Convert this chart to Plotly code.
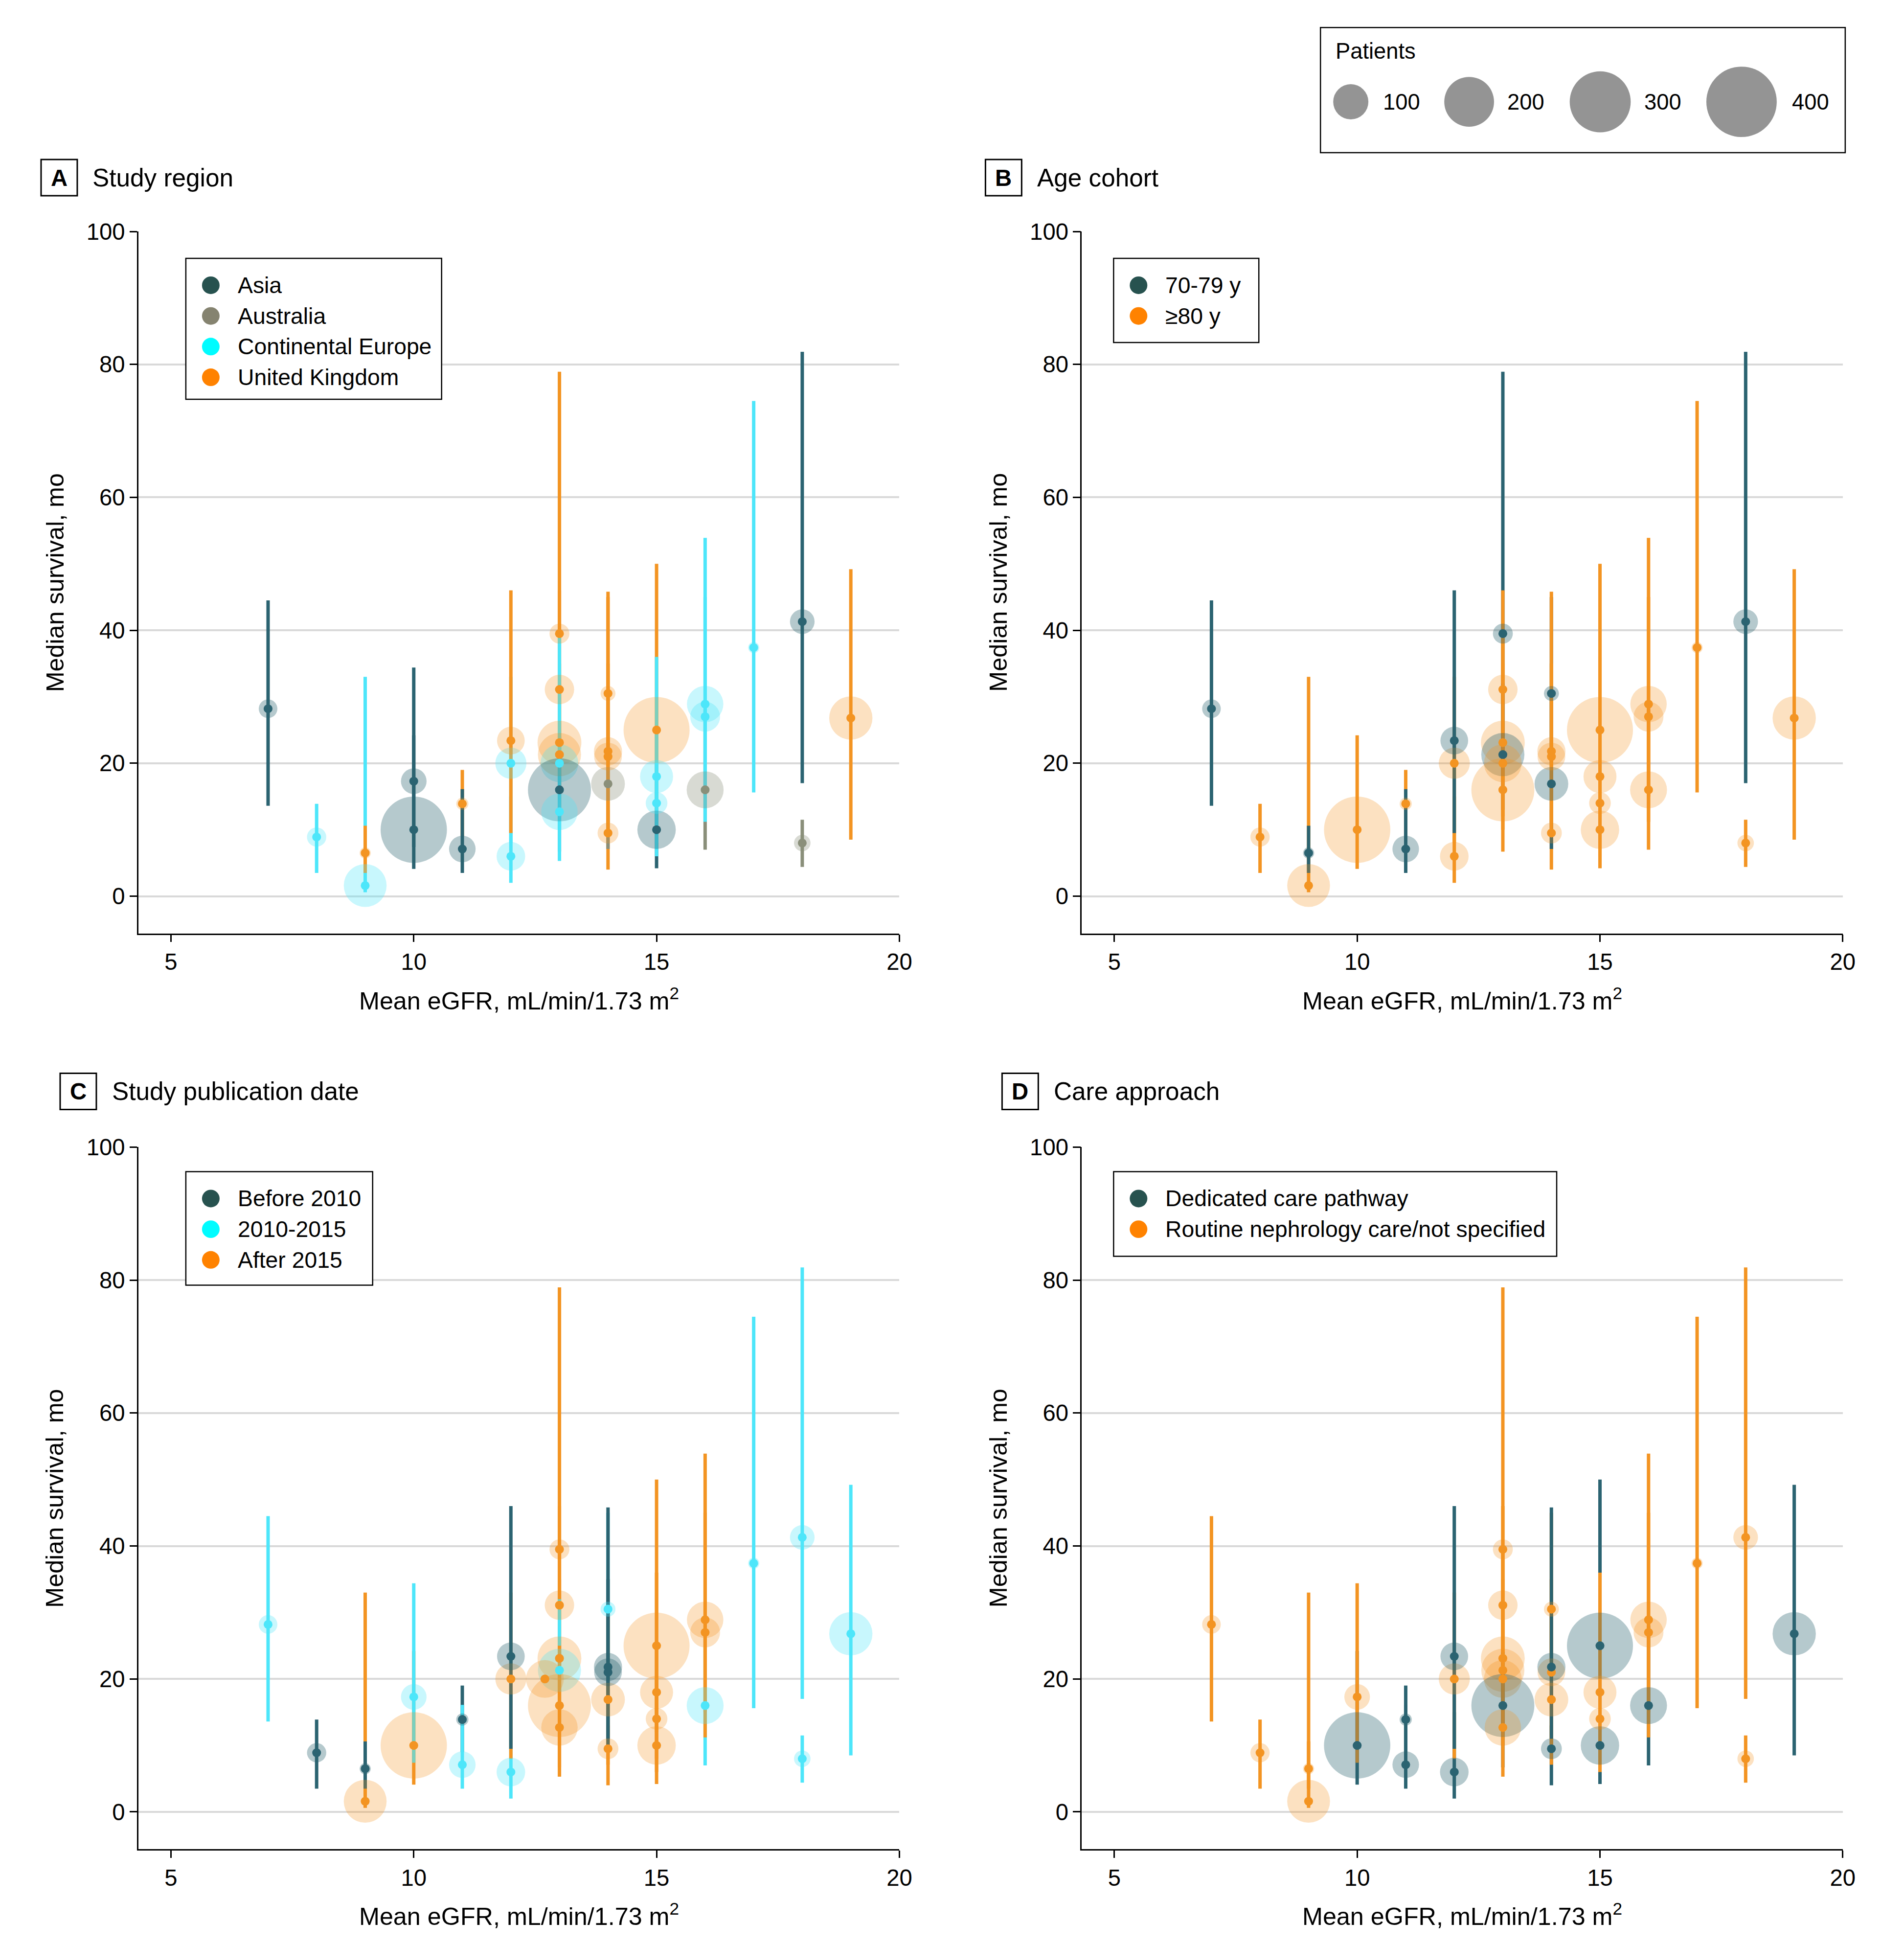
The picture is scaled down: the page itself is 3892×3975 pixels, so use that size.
import plotly.graph_objects as go

W, H = 3892, 3975
FONT = "Liberation Sans, Arial, sans-serif"

# ---------------- data (one entry per study estimate) ----------------
egfr = [7, 8, 9, 9, 10, 10, 11, 11, 12, 12, 12, 13, 13, 13, 13, 13, 13, 13,
        14, 14, 14, 14, 14, 15, 15, 15, 15, 16, 16, 16, 17, 18, 18, 19]
# panel C draws one estimate at 12.7
egfr_pub = [7, 8, 9, 9, 10, 10, 11, 11, 12, 12, 12, 13, 13, 13, 13, 12.7, 13, 13,
            14, 14, 14, 14, 14, 15, 15, 15, 15, 16, 16, 16, 17, 18, 18, 19]
survival = [28.2, 8.9, 1.6, 6.5, 10.0, 17.3, 13.9, 7.1, 6.0, 20.0, 23.4, 39.5, 31.1, 23.1,
            21.3, 20.0, 16.0, 12.7, 30.5, 9.5, 16.9, 21.0, 21.8, 10.0, 25.0, 18.0, 14.0,
            16.0, 27.0, 28.9, 37.4, 41.3, 8.0, 26.8]
ci_low = [13.6, 3.5, 0.6, 3.5, 4.1, 7.4, 9.0, 3.5, 2.0, 8.0, 9.5, 22.0, 18.0, 12.0,
          13.0, 10.0, 6.7, 5.3, 20.0, 4.0, 7.1, 9.0, 11.0, 4.2, 12.0, 8.0, 6.0,
          7.0, 15.0, 11.2, 15.6, 17.0, 4.4, 8.5]
ci_high = [44.5, 13.9, 33.0, 10.6, 24.2, 34.4, 19.0, 16.1, 15.0, 33.0, 46.0, 78.9, 46.0, 35.0,
           32.0, 39.0, 24.0, 25.0, 45.0, 13.0, 30.0, 35.0, 45.8, 20.0, 50.0, 36.0, 25.0,
           28.0, 45.0, 53.9, 74.5, 81.9, 11.5, 49.2]
patients = [28, 30, 148, 10, 355, 53, 12, 57, 66, 78, 62, 32, 70, 155,
            150, 115, 320, 107, 18, 35, 92, 62, 64, 119, 352, 88, 38,
            110, 72, 107, 10, 49, 22, 151]

AS, AU, EU, UK = "Asia", "Australia", "Continental Europe", "United Kingdom"
region = [AS, EU, EU, UK, AS, AS, UK, AS, EU, EU, UK, UK, UK, UK,
          UK, EU, AS, EU, UK, UK, AU, UK, UK, AS, UK, EU, EU,
          AU, EU, EU, EU, AS, AU, UK]
Y70, Y80 = "70-79 y", "≥80 y"
age_cohort = [Y70, Y80, Y80, Y70, Y80, None, Y80, Y70, Y80, Y80, Y70, Y70, Y80, Y80,
              Y70, Y80, Y80, None, Y70, Y80, Y70, Y80, Y80, Y80, Y80, Y80, Y80,
              Y80, Y80, Y80, Y80, Y70, Y80, Y80]
P1, P2, P3 = "Before 2010", "2010-2015", "After 2015"
pub_period = [P2, P1, P3, P1, P3, P2, P1, P2, P2, P3, P1, P3, P3, P3,
              P2, P3, P3, P3, P2, P3, P3, P1, P1, P3, P3, P3, P3,
              P2, P3, P3, P2, P2, P2, P2]
DED, RTN = "Dedicated care pathway", "Routine nephrology care/not specified"
care = [RTN, RTN, RTN, RTN, DED, RTN, DED, DED, DED, RTN, DED, RTN, RTN, RTN,
        RTN, RTN, DED, RTN, RTN, DED, RTN, RTN, DED, DED, DED, RTN, RTN,
        DED, RTN, RTN, RTN, RTN, RTN, DED]

x_ticks = [5, 10, 15, 20]
y_ticks = [0, 20, 40, 60, 80, 100]
size_legend = [100, 200, 300, 400]

# ---------------- capture compensation ----------------
# the photographed frame adds a ~25 px band at the top and right; positions are
# given in target-image pixels and mapped to page pixels here.
FX, FY, TOP = 3892 / 3917, 3975 / 4000, 25
K = 1 / FX


def px(tx):
    return tx / FX


def py(ty):
    return ty / FY - TOP


def fs(s):
    return round(s * K, 1)


# ---------------- styling ----------------
LINE_COL = {"dark": "#2b6371", "olive": "#8a8f7a", "cyan": "#4de6fa", "orange": "#f39422"}
BUB_ALPHA = {"dark": 0.5, "olive": 0.47, "cyan": 0.44, "orange": 0.40}
LEG_COL = {"dark": "#27524f", "olive": "#858370", "cyan": "#00fcff", "orange": "#ff8200"}
SIZEREF = 2 * 100 / (71.5 * K) ** 2   # 100 patients -> 71.5 px diameter


def rgba(h, a):
    return "rgba(%d,%d,%d,%.2f)" % (int(h[1:3], 16), int(h[3:5], 16), int(h[5:7], 16), a)


panels = [
    dict(letter="A", title="Study region", x=egfr, group=region, no_ci=[],
         keys=[AS, AU, EU, UK], tones=["dark", "olive", "cyan", "orange"],
         plot=(283, 1839, 472, 1907), letterbox=(84, 158, 325, 399), title_at=(187, 362),
         legend=(380, 903, 527, 815)),
    dict(letter="B", title="Age cohort", x=egfr, group=age_cohort, no_ci=[],
         keys=[Y70, Y80], tones=["dark", "orange"],
         plot=(2212, 3768, 472, 1907), letterbox=(2015, 2089, 325, 399), title_at=(2119, 362),
         legend=(2277, 2574, 527, 699)),
    dict(letter="C", title="Study publication date", x=egfr_pub, group=pub_period, no_ci=[15],
         keys=[P1, P2, P3], tones=["dark", "cyan", "orange"],
         plot=(283, 1839, 2344, 3779), letterbox=(123, 197, 2193, 2267), title_at=(227, 2230),
         legend=(380, 762, 2394, 2626)),
    dict(letter="D", title="Care approach", x=egfr, group=care, no_ci=[],
         keys=[DED, RTN], tones=["dark", "orange"],
         plot=(2212, 3768, 2344, 3779), letterbox=(2049, 2123, 2193, 2267), title_at=(2153, 2230),
         legend=(2277, 3183, 2394, 2567)),
]

fig = go.Figure()
layout = dict(autosize=True, margin=dict(l=0, r=0, t=0, b=0, pad=0),
              paper_bgcolor="white", plot_bgcolor="rgba(0,0,0,0)",
              showlegend=False, font=dict(family=FONT, color="black"))
shapes, annotations = [], []

for k, p in enumerate(panels):
    sfx = "" if k == 0 else str(k + 1)
    xa, ya = "x" + sfx, "y" + sfx
    tone = dict(zip(p["keys"], p["tones"]))
    idx = [i for i, g in enumerate(p["group"]) if g is not None]
    # confidence intervals
    for i in idx:
        if i in p["no_ci"]:
            continue
        fig.add_trace(go.Scatter(
            x=[p["x"][i], p["x"][i]], y=[ci_low[i], ci_high[i]], mode="lines",
            line=dict(color=LINE_COL[tone[p["group"][i]]], width=fs(7)),
            xaxis=xa, yaxis=ya, hoverinfo="skip", showlegend=False))
    # bubbles sized by patients
    fig.add_trace(go.Scatter(
        x=[p["x"][i] for i in idx], y=[survival[i] for i in idx], mode="markers",
        marker=dict(size=[patients[i] for i in idx], sizemode="area", sizeref=SIZEREF,
                    color=[rgba(LINE_COL[tone[p["group"][i]]], BUB_ALPHA[tone[p["group"][i]]]) for i in idx],
                    line=dict(width=0)),
        xaxis=xa, yaxis=ya, hoverinfo="skip", showlegend=False))
    # median dots
    fig.add_trace(go.Scatter(
        x=[p["x"][i] for i in idx], y=[survival[i] for i in idx], mode="markers",
        marker=dict(size=fs(18), color=[LINE_COL[tone[p["group"][i]]] for i in idx], line=dict(width=0)),
        xaxis=xa, yaxis=ya, hoverinfo="skip", showlegend=False))

    l, r, t, b = p["plot"]
    layout["xaxis" + sfx] = dict(
        domain=[px(l) / W, px(r) / W], anchor=ya, range=[4.33, 20], tickvals=x_ticks,
        showgrid=False, zeroline=False, showline=True, linecolor="black", linewidth=fs(2.5),
        ticks="outside", ticklen=fs(15), tickwidth=fs(2.5), tickcolor="black",
        tickfont=dict(size=fs(47), family=FONT, color="black"), fixedrange=True)
    layout["yaxis" + sfx] = dict(
        domain=[1 - py(b) / H, 1 - py(t) / H], anchor=xa, range=[-5.6, 100], tickvals=y_ticks,
        showgrid=True, gridcolor="#d9d9d9", gridwidth=fs(4), zeroline=False,
        showline=True, linecolor="black", linewidth=fs(2.5),
        ticks="outside", ticklen=fs(15), tickwidth=fs(2.5), tickcolor="black",
        tickfont=dict(size=fs(47), family=FONT, color="black"), fixedrange=True)

    # axis titles
    annotations.append(dict(x=px((l + r) / 2), y=py(b + 134), xref="x5", yref="y5",
                            text="Mean eGFR, mL/min/1.73 m<sup>2</sup>", showarrow=False,
                            xanchor="center", yanchor="middle", font=dict(size=fs(50))))
    annotations.append(dict(x=px(l - 171), y=py((t + b) / 2), xref="x5", yref="y5",
                            text="Median survival, mo", showarrow=False, textangle=-90,
                            xanchor="center", yanchor="middle", font=dict(size=fs(50))))
    # panel letter and title
    bl, br, bt, bb = p["letterbox"]
    shapes.append(dict(type="rect", xref="x5", yref="y5", x0=px(bl), x1=px(br), y0=py(bt), y1=py(bb),
                       line=dict(color="black", width=fs(3)), fillcolor="rgba(0,0,0,0)", layer="above"))
    annotations.append(dict(x=px((bl + br) / 2), y=py((bt + bb) / 2), xref="x5", yref="y5",
                            text="<b>%s</b>" % p["letter"], showarrow=False,
                            xanchor="center", yanchor="middle", font=dict(size=fs(47))))
    annotations.append(dict(x=px(p["title_at"][0]), y=py(p["title_at"][1]), xref="x5", yref="y5",
                            text=p["title"], showarrow=False,
                            xanchor="left", yanchor="middle", font=dict(size=fs(51))))
    # group legend
    gl, gr, gt, gb = p["legend"]
    shapes.append(dict(type="rect", xref="x5", yref="y5", x0=px(gl), x1=px(gr), y0=py(gt), y1=py(gb),
                       line=dict(color="black", width=fs(2.5)), fillcolor="white", layer="above"))
    for j, key in enumerate(p["keys"]):
        cy = gt + 55 + j * 62.7
        cx = gl + 51
        shapes.append(dict(type="circle", xref="x5", yref="y5",
                           x0=px(cx - 18), x1=px(cx + 18), y0=py(cy - 18), y1=py(cy + 18),
                           line=dict(width=0), fillcolor=LEG_COL[p["tones"][j]], layer="above"))
        annotations.append(dict(x=px(gl + 104), y=py(cy), xref="x5", yref="y5", text=key,
                                showarrow=False, xanchor="left", yanchor="middle",
                                font=dict(size=fs(46))))

# overlay pixel-coordinate axes for decorations
layout["xaxis5"] = dict(domain=[0, 1], range=[0, W], visible=False, anchor="y5", fixedrange=True)
layout["yaxis5"] = dict(domain=[0, 1], range=[H, 0], visible=False, anchor="x5", fixedrange=True)

# patients size legend
shapes.append(dict(type="rect", xref="x5", yref="y5", x0=px(2700), x1=px(3773), y0=py(55), y1=py(311),
                   line=dict(color="black", width=fs(2.5)), fillcolor="rgba(0,0,0,0)", layer="above"))
annotations.append(dict(x=px(2729), y=py(103), xref="x5", yref="y5", text="Patients", showarrow=False,
                        xanchor="left", yanchor="middle", font=dict(size=fs(45))))
leg_cx = [2762, 3004, 3272, 3561]
leg_tx = [2826, 3080, 3360, 3662]
fig.add_trace(go.Scatter(x=[px(c) for c in leg_cx], y=[py(207)] * 4, mode="markers",
                         xaxis="x5", yaxis="y5",
                         marker=dict(size=size_legend, sizemode="area", sizeref=SIZEREF,
                                     color="#666666", line=dict(width=0)),
                         hoverinfo="skip", showlegend=False))
for tx, v in zip(leg_tx, size_legend):
    annotations.append(dict(x=px(tx), y=py(207), xref="x5", yref="y5", text=str(v), showarrow=False,
                            xanchor="left", yanchor="middle", font=dict(size=fs(45))))

layout["shapes"] = shapes
layout["annotations"] = annotations
fig.update_layout(**layout)

fig.write_html("out.html",
               config={"displayModeBar": False, "responsive": True},
               default_width="100vw",
               default_height="100vh; position:fixed; left:0; top:0; margin:0")
